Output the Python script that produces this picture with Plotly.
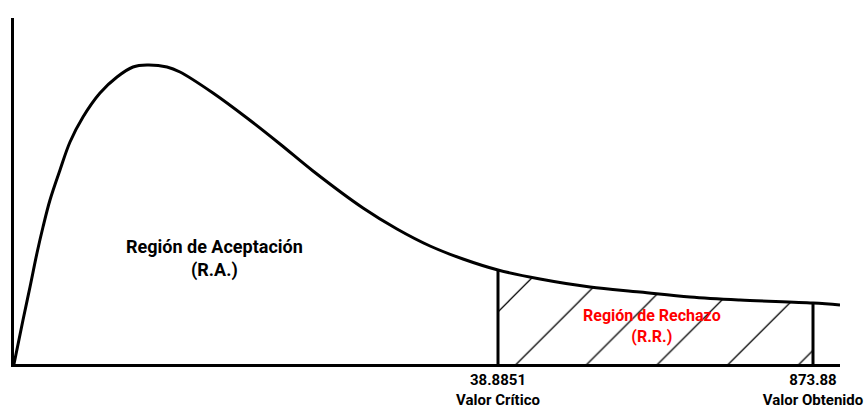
import numpy as np
import plotly.graph_objects as go

# curve (horizontal position, density height), arbitrary units
curve_x = [0, 9, 16, 23, 29, 36, 46, 56, 69, 86, 103, 119, 133, 153, 166, 199,
           233, 266, 299, 349, 383, 416, 449, 484, 526, 576, 626, 676, 726, 799, 826]
curve_y = [0, 44, 77, 111, 137, 164, 194, 222, 247, 271, 287, 297, 299, 297, 292, 271,
           246, 220, 193, 156, 135, 118, 105, 94, 85, 77, 72, 67, 64, 61, 59]

critical_x = 484
obtained_x = 799
tick_text = ["<b>38.8851<br>Valor Crítico</b>", "<b>873.88<br>Valor Obtenido</b>"]

FONT = "Roboto"

fig = go.Figure()

# rejection region hatch
rx = [critical_x] + [x for x in curve_x if critical_x < x < obtained_x] + [obtained_x]
ry = list(np.interp(rx, curve_x, curve_y))
fig.add_trace(go.Scatter(
    x=rx, y=ry, mode="lines", line=dict(width=0, shape="spline"),
    fill="tozeroy", fillcolor="rgba(255,255,255,0)",
    fillpattern=dict(shape="/", size=50, solidity=0.025, fgcolor="#000000",
                     fgopacity=1, bgcolor="rgba(255,255,255,0)"),
    hoverinfo="skip"))

# density curve
fig.add_trace(go.Scatter(x=curve_x, y=curve_y, mode="lines",
                         line=dict(color="black", width=3, shape="spline")))

# vertical bounds
for vx in (critical_x, obtained_x):
    vy = float(np.interp(vx, curve_x, curve_y))
    fig.add_trace(go.Scatter(x=[vx, vx], y=[0, vy], mode="lines",
                             line=dict(color="black", width=3)))

fig.add_annotation(x=200, y=106, text="<b>Región de Aceptación<br>(R.A.)</b>",
                   showarrow=False, font=dict(family=FONT, size=18, color="black"))
fig.add_annotation(x=638, y=38, text="<b>Región de Rechazo<br>(R.R.)</b>",
                   showarrow=False, font=dict(family=FONT, size=16, color="#ff0000"))

fig.update_layout(
    width=868, height=409,
    margin=dict(l=14, r=28, t=18, b=45),
    paper_bgcolor="white", plot_bgcolor="white",
    showlegend=False,
    xaxis=dict(range=[0, 826], showgrid=False, zeroline=False, automargin=False,
               showline=True, linecolor="black", linewidth=3,
               tickvals=[critical_x, obtained_x], ticktext=tick_text, ticks="",
               ticklabeloverflow="allow",
               tickfont=dict(family=FONT, size=15, color="black"), tickangle=0),
    yaxis=dict(range=[0, 346], showgrid=False, zeroline=False, automargin=False,
               showline=True, linecolor="black", linewidth=3,
               showticklabels=False, ticks=""),
)

# drop the default body margin so the figure sits at the window corner
fig.write_html("out.html", config={"displayModeBar": False},
               post_script="document.body.style.margin='0';")
